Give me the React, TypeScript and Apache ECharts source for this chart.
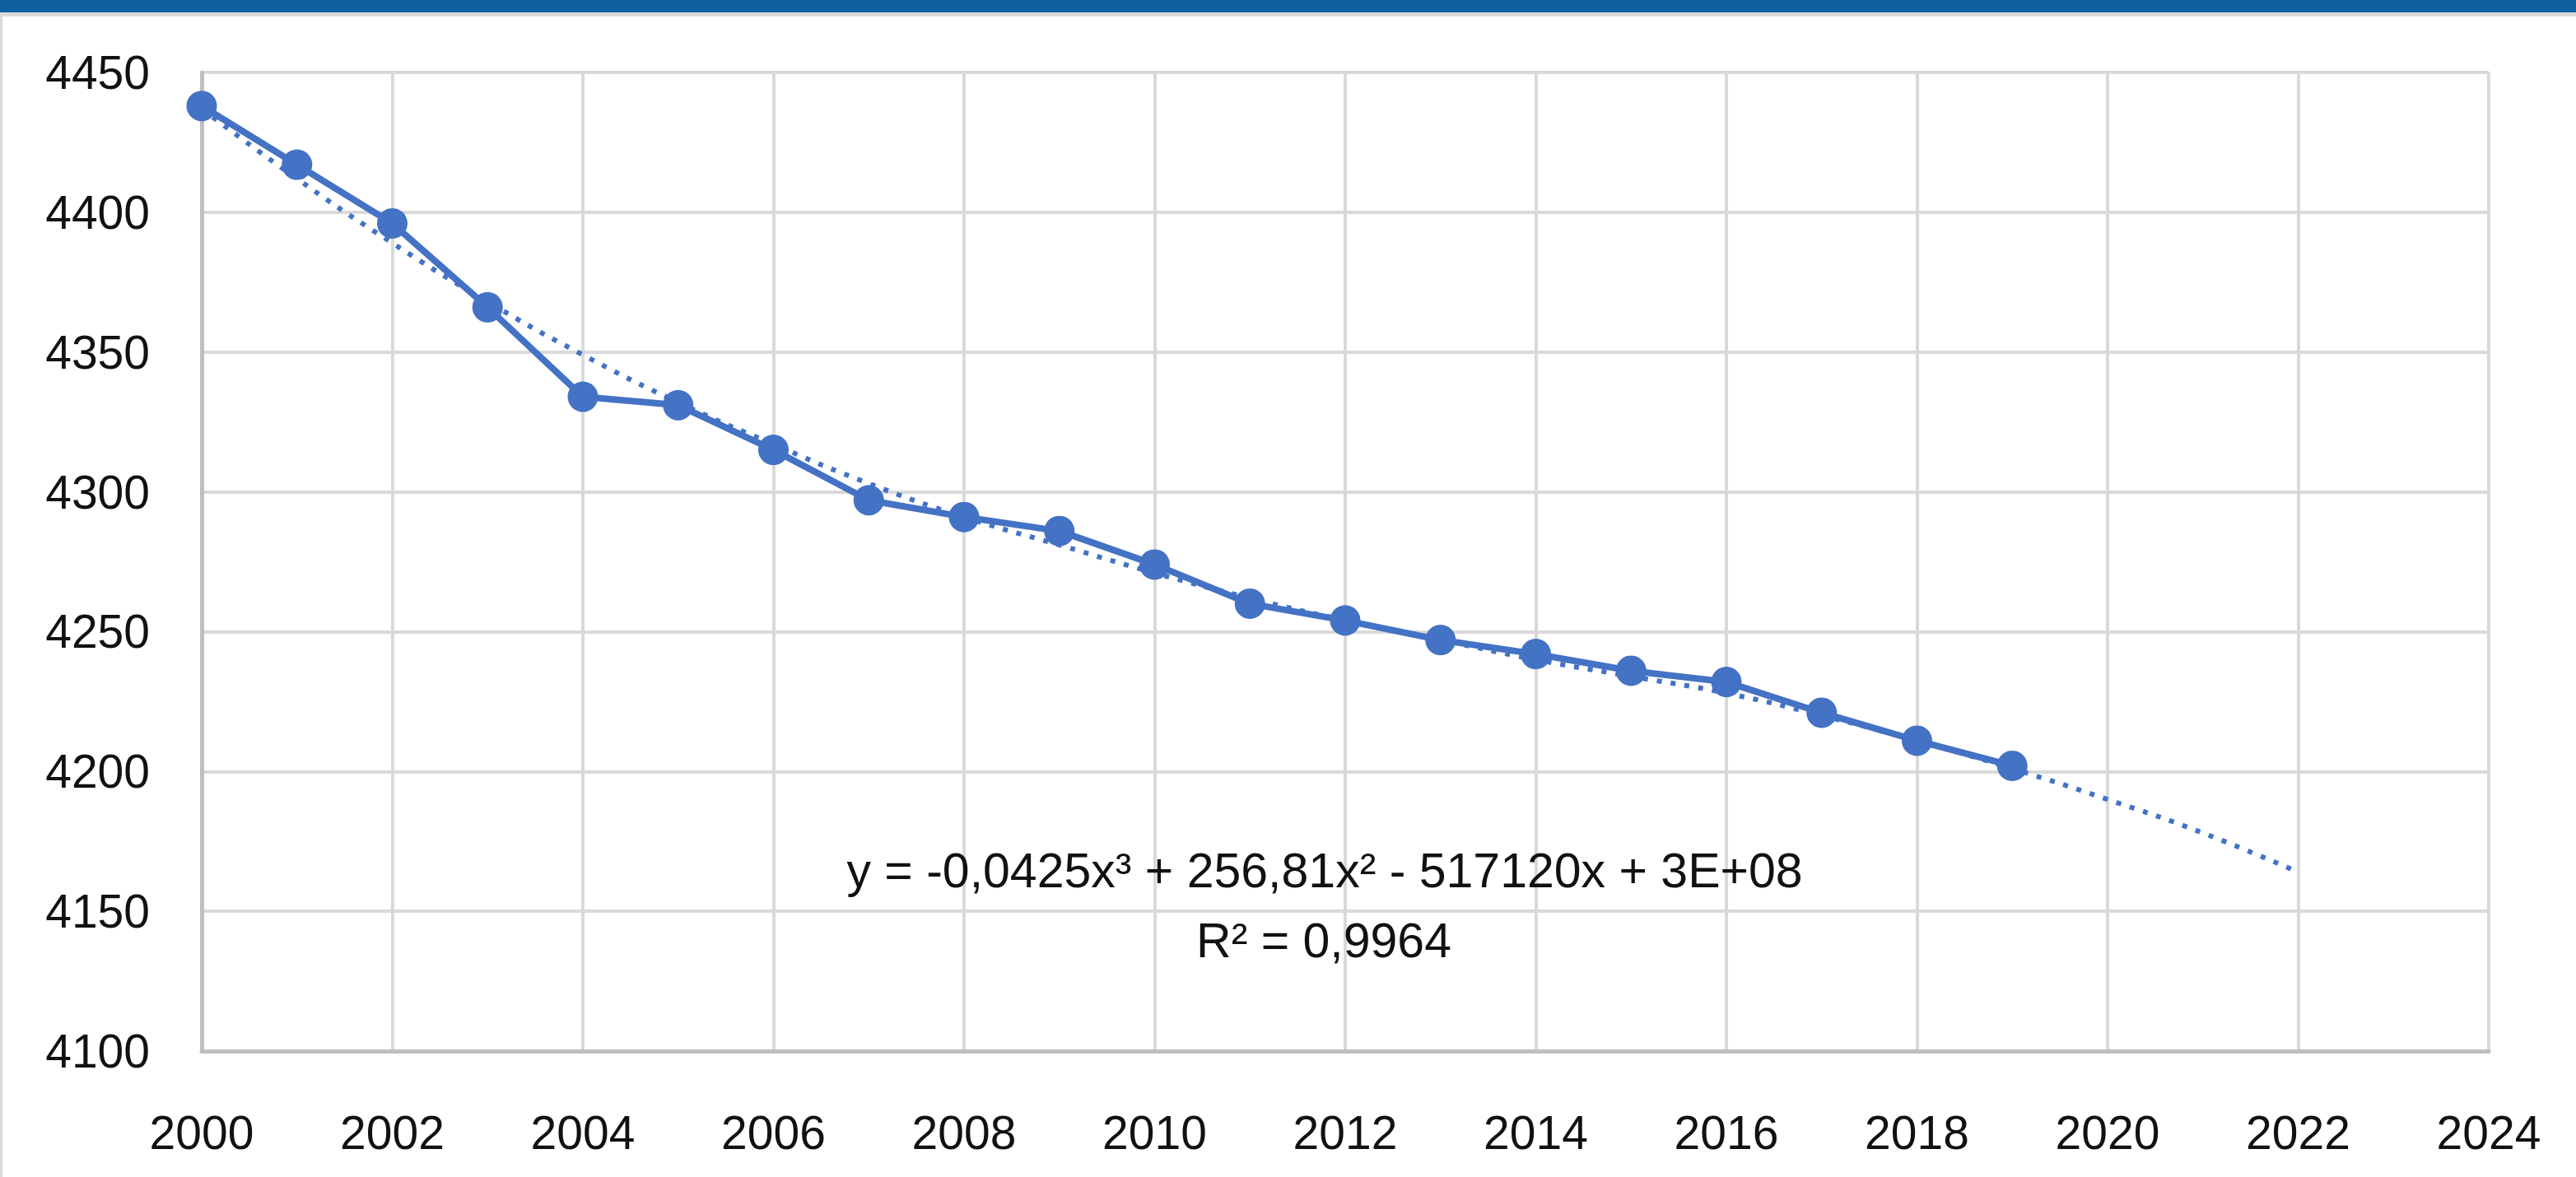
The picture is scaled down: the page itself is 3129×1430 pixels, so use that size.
import React, { useEffect, useRef } from "react";
import * as echarts from "echarts";

const years = [2000, 2001, 2002, 2003, 2004, 2005, 2006, 2007, 2008, 2009, 2010, 2011, 2012, 2013, 2014, 2015, 2016, 2017, 2018, 2019];
const population = [4438, 4417, 4396, 4366, 4334, 4331, 4315, 4297, 4291, 4286, 4274, 4260, 4254, 4247, 4242, 4236, 4232, 4221, 4211, 4202];

const trendYears = [2000, 2001, 2002, 2003, 2004, 2005, 2006, 2007, 2008, 2009, 2010, 2011, 2012, 2013, 2014, 2015, 2016, 2017, 2018, 2019, 2020, 2021, 2022];
const trendValues = [4437, 4412, 4389, 4368, 4349, 4332, 4317, 4303, 4291, 4281, 4271, 4262, 4254, 4247, 4240, 4234, 4228, 4220, 4211, 4201, 4190, 4178, 4164];

const equationText = "y = -0,0425x³ + 256,81x² - 517120x + 3E+08";
const r2Text = "R² = 0,9964";

const FONT = "'Liberation Sans', Arial, sans-serif";

export default function App() {
  const ref = useRef<HTMLDivElement>(null);
  useEffect(() => {
    if (!ref.current) return;
    const chart = echarts.init(ref.current, null, { renderer: "svg" });
    chart.setOption({
      animation: false,
      backgroundColor: "#ffffff",
      grid: { left: 245, right: 106, top: 88, bottom: 153, containLabel: false },
      xAxis: {
        type: "value",
        min: 2000,
        max: 2024,
        interval: 2,
        axisLine: { show: true, lineStyle: { color: "#bfbfbf", width: 5 } },
        axisTick: { show: false },
        splitLine: { show: true, lineStyle: { color: "#d9d9d9", width: 4 } },
        axisLabel: { color: "#111", fontSize: 57, fontFamily: FONT, margin: 70, formatter: (v: number) => String(v) },
      },
      yAxis: {
        type: "value",
        min: 4100,
        max: 4450,
        interval: 50,
        axisLine: { show: true, lineStyle: { color: "#bfbfbf", width: 5 } },
        axisTick: { show: false },
        splitLine: { show: true, lineStyle: { color: "#d9d9d9", width: 4 } },
        axisLabel: { color: "#111", fontSize: 57, fontFamily: FONT, margin: 63, formatter: (v: number) => String(v) },
      },
      graphic: [
        { type: "rect", shape: { x: 0, y: 0, width: 3129, height: 15 }, style: { fill: "#0f5f9e" }, z: 100 },
        { type: "rect", shape: { x: 0, y: 15, width: 3129, height: 5 }, style: { fill: "#d9d9d9" }, z: 100 },
        { type: "rect", shape: { x: 0, y: 15, width: 3, height: 1415 }, style: { fill: "#d9d9d9" }, z: 100 },
        {
          type: "text",
          x: 1609,
          y: 1058,
          style: { text: equationText, fill: "#111", fontSize: 59, fontFamily: FONT, align: "center", verticalAlign: "middle" },
          z: 100,
        },
        {
          type: "text",
          x: 1608,
          y: 1143,
          style: { text: r2Text, fill: "#111", fontSize: 59, fontFamily: FONT, align: "center", verticalAlign: "middle" },
          z: 100,
        },
      ],
      series: [
        {
          type: "line",
          name: "trend",
          data: trendYears.map((y, i) => [y, trendValues[i]]),
          smooth: true,
          showSymbol: false,
          symbol: "none",
          lineStyle: { color: "#4472c4", width: 6, type: [6, 11] },
          z: 3,
        },
        {
          type: "line",
          name: "population",
          data: years.map((y, i) => [y, population[i]]),
          symbol: "circle",
          symbolSize: 37,
          itemStyle: { color: "#4472c4" },
          lineStyle: { color: "#4472c4", width: 8 },
          z: 2,
        },
      ],
    });
    return () => chart.dispose();
  }, []);
  return <div ref={ref} style={{ position: "fixed", left: 0, top: 0, width: 3129, height: 1430 }} />;
}
